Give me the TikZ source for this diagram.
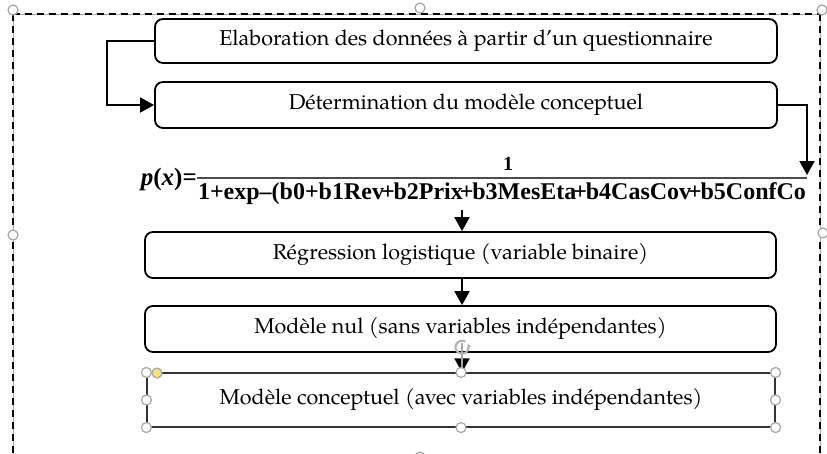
\documentclass[tikz,border=0pt]{standalone}
\usepackage{fontspec}
\setmainfont{TeX Gyre Pagella}
\newfontfamily\timesf{Liberation Serif}
\usetikzlibrary{arrows.meta}
\newcommand\tplus{\kern-2.5pt+\kern-1pt}
\begin{document}
\begin{tikzpicture}[x=1pt,y=-1pt,
  boxr/.style={draw, line width=1.8pt, rounded corners=8pt, inner sep=0pt,
    font=\fontsize{21.5}{24}\selectfont},
  boxsel/.style={draw=black!80, line width=1.1pt, inner sep=0pt,
    font=\fontsize{21.5}{24}\selectfont},
  arr/.style={-{Triangle[width=15pt,length=14pt]}, line width=1.8pt},
  handle/.style={draw=black!35, fill=white, line width=1.2pt, circle, inner sep=0pt, minimum size=10pt},
  formula/.style={font=\timesf\bfseries\fontsize{20}{24}\selectfont, inner sep=0pt}]
\useasboundingbox (0,0) rectangle (827,453);
% frame
\draw[black!35, line width=0.8pt] (13,14) -- (820,14) (13,14) -- (13,460) (820,14) -- (820,460);
\draw[dashed, dash pattern=on 7pt off 5pt, line width=2pt] (13,14) -- (820,14) (13,14) -- (13,460) (820,14) -- (820,460);
% boxes
\node[boxr, minimum width=622pt, minimum height=44pt] (b1) at (466,41) {Elaboration des données à partir d’un questionnaire};
\node[boxr, minimum width=622pt, minimum height=46pt] (b2) at (466,105) {Détermination du modèle conceptuel};
\node[boxr, minimum width=631pt, minimum height=46pt] (b3) at (460.5,255) {Régression logistique (variable binaire)};
\node[boxr, minimum width=631pt, minimum height=46pt] (b4) at (460.5,329) {Modèle nul (sans variables indépendantes)};
\node[boxsel, minimum width=628pt, minimum height=54pt] (b5) at (461,400) {Modèle conceptuel (avec variables indépendantes)};
% formula
\node[formula, font=\timesf\bfseries\fontsize{25}{28}\selectfont, anchor=base east] (px) at (197,185) {\textit{p}(\textit{x})=};
\node[formula, anchor=base] (num) at (508,170) {1};
\node[formula, anchor=base] (den) at (502,199) {\resizebox{608pt}{!}{1+exp–(b0+b1Rev\tplus b2Prix\tplus b3MesEta\tplus b4CasCov\tplus b5ConfCo}};
\coordinate (fl) at (197,178);
\coordinate (fr) at (807,178);
\draw[line width=1.3pt, black!70] (fl) -- (fr);
% connectors
\coordinate (c1) at (107,41);
\draw[arr] (b1.west) -- (c1) |- (b2.west);
\coordinate (c2) at (807,175);
\draw[arr] (b2.east) -| (c2);
\coordinate (a3) at (462,210);
\draw[arr] (a3) -- (a3 |- b3.north);
\draw[arr] (b3.south -| a3) -- (b4.north -| a3);
\draw[arr] (b4.south -| a3) -- (b5.north -| a3);
% selection handles
\coordinate (rot) at (462,336);
\draw[black!35, line width=1.2pt] (rot) ++(0,7) -- (b5.north -| a3);
\draw[black!30, line width=2.2pt, -{Stealth[length=4pt,width=5pt]}] (rot) ++(60:6.5) arc[start angle=60, end angle=390, radius=6.5pt];
\node[handle] (h1) at (b5.north west) {};
\node[handle, fill={rgb,255:red,245;green,225;blue,130}] (h2) at (157,373) {};
\node[handle] (h3) at (b5.north) {};
\node[handle] (h4) at (b5.north east) {};
\node[handle] (h5) at (b5.west) {};
\node[handle] (h6) at (b5.east) {};
\node[handle] (h7) at (b5.south west) {};
\node[handle] (h8) at (b5.south) {};
\node[handle] (h9) at (b5.south east) {};
\node[handle] (f1) at (13,10) {};
\node[handle] (f2) at (420,8) {};
\node[handle] (f3) at (822,10) {};
\node[handle] (f4) at (13,235) {};
\node[handle] (f5) at (823,233) {};
\node[handle] (f6) at (420,457) {};
\end{tikzpicture}
\end{document}
